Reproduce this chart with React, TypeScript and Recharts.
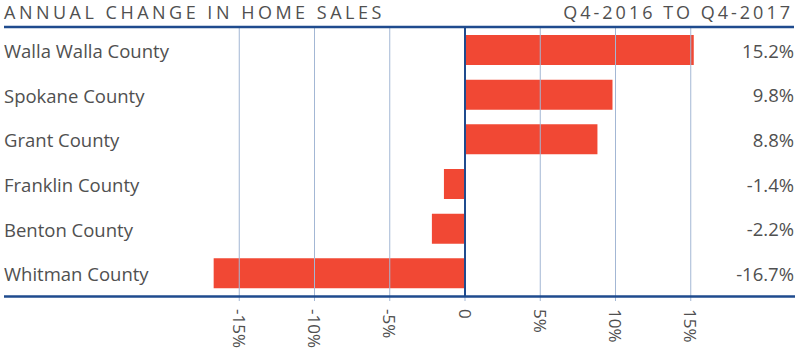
import React from "react";
import { BarChart, Bar, XAxis, YAxis, ReferenceLine, LabelList } from "recharts";

const counties = ["Walla Walla County", "Spokane County", "Grant County", "Franklin County", "Benton County", "Whitman County"];
const changes = [15.2, 9.8, 8.8, -1.4, -2.2, -16.7];
const xTicks = [-15, -10, -5, 0, 5, 10, 15];
const title = "ANNUAL CHANGE IN HOME SALES";
const subtitle = "Q4-2016 TO Q4-2017";

const data = counties.map((name, i) => ({ name, value: changes[i] }));

const FONT = "'Open Sans', sans-serif";
const GRAY = "#505050";
const NAVY = "#1F4B8E";
const GRID = "#A3B7D4";
const BAR = "#F14834";

const fmtTick = (v: number) => (v === 0 ? "0" : `${v}%`);

const XTick = (props: any) => {
  const { x, payload } = props;
  return (
    <text
      transform={`translate(${x},309) rotate(90)`}
      textAnchor="start"
      dominantBaseline="central"
      fontFamily={FONT}
      fontSize={17}
      fill={GRAY}
    >
      {fmtTick(payload.value)}
    </text>
  );
};

const YTick = (props: any) => {
  const { y, payload } = props;
  return (
    <text x={4} y={y} textAnchor="start" dominantBaseline="central" fontFamily={FONT} fontSize={18.5} fill={GRAY}>
      {payload.value}
    </text>
  );
};

const ValueLabel = (props: any) => {
  const { y, height, value } = props;
  return (
    <text x={794} y={y + height / 2} textAnchor="end" dominantBaseline="central" fontFamily={FONT} fontSize={18.5} fill={GRAY}>
      {`${Number(value).toFixed(1)}%`}
    </text>
  );
};

export default function App() {
  return (
    <div style={{ position: "absolute", left: 0, top: 0, width: 800, height: 360, background: "#fff" }}>
      <BarChart
        width={800}
        height={360}
        data={data}
        layout="vertical"
        margin={{ top: 28, right: 34, bottom: 4, left: 4 }}
        barSize={30}
      >
        <XAxis
          type="number"
          domain={[-20, 20]}
          ticks={xTicks}
          axisLine={false}
          tickLine={{ stroke: GRID }}
          tickSize={5}
          height={60}
          tick={<XTick />}
          interval={0}
        />
        <YAxis type="category" dataKey="name" width={160} axisLine={false} tickLine={false} tick={<YTick />} />
        {xTicks.filter((t) => t !== 0).map((t) => (
          <ReferenceLine key={t} x={t} stroke={GRID} strokeWidth={1} />
        ))}
        <Bar dataKey="value" fill={BAR} isAnimationActive={false}>
          <LabelList dataKey="value" content={<ValueLabel />} />
        </Bar>
        <ReferenceLine x={0} stroke={NAVY} strokeWidth={2} />
      </BarChart>
      <svg width={800} height={360} style={{ position: "absolute", left: 0, top: 0, pointerEvents: "none" }}>
        <text x={4} y={18.5} fontFamily={FONT} fontSize={18} letterSpacing={3.5} fill={GRAY}>
          {title}
        </text>
        <text x={793} y={18.5} textAnchor="end" fontFamily={FONT} fontSize={18} letterSpacing={3} fill={GRAY}>
          {subtitle}
        </text>
        <line x1={4} x2={794} y1={27} y2={27} stroke={NAVY} strokeWidth={2.5} />
        <line x1={4} x2={795} y1={296.5} y2={296.5} stroke={NAVY} strokeWidth={2.5} />
      </svg>
    </div>
  );
}
